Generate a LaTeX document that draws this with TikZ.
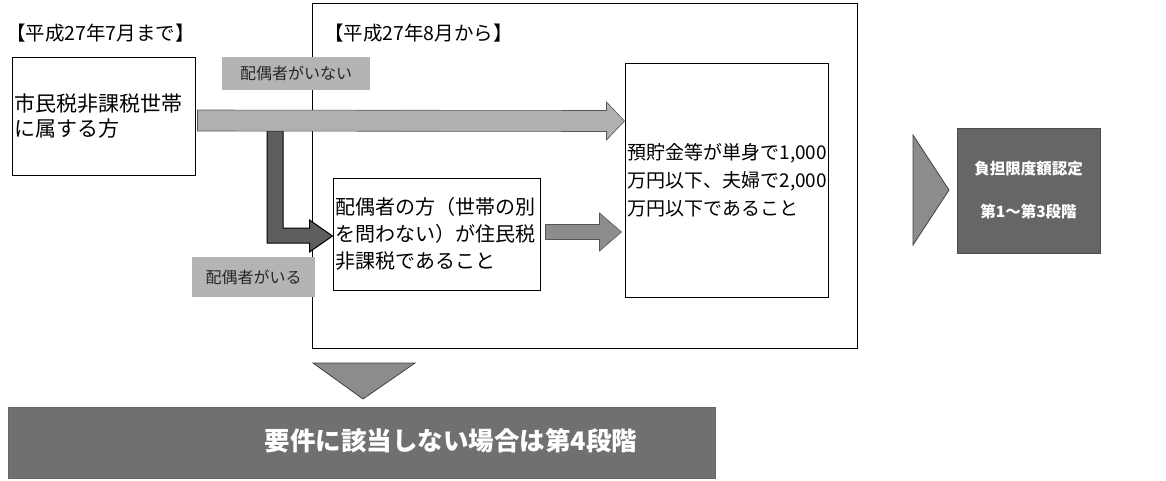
\documentclass[tikz,border=0pt]{standalone}
\usepackage{fontspec}
\setmainfont{Noto Sans CJK JP}
\usetikzlibrary{calc}
\definecolor{lblfill}{HTML}{B4B4B4}
\definecolor{arrowlight}{HTML}{B0B0B0}
\definecolor{arrowmid}{HTML}{8C8C8C}
\definecolor{arrowdark}{HTML}{5E5E5E}
\definecolor{darkfill}{HTML}{666666}
\definecolor{barfill}{HTML}{707070}
\definecolor{edgegray}{HTML}{555555}
\tikzset{
  box/.style={draw=black, line width=1pt, fill=white, inner xsep=2.5pt, inner ysep=0pt, align=left},
  lbl/.style={fill=lblfill, text=black!85, inner sep=0pt, align=center, font=\fontsize{16}{18}\selectfont},
  title/.style={anchor=west, inner sep=0pt, font=\fontsize{19.5}{22}\selectfont},
  fatlight/.style={fill=arrowlight, draw=edgegray, line width=0.6pt},
  fatdark/.style={fill=arrowdark, draw=black, line width=1pt},
  fatmid/.style={fill=arrowmid, draw=edgegray, line width=0.6pt},
  darkbox/.style={fill=darkfill, draw=black!70, line width=0.8pt, text=white, align=center, inner sep=0pt},
  pointer/.style={fill=arrowmid, draw=black!75, line width=0.8pt}
}
\begin{document}
\begin{tikzpicture}[x=1pt,y=-1pt]
\useasboundingbox (0,0) rectangle (1166,480);

% titles
\node[title] (t1) at (6,33) {【平成27年7月まで】};
% outer frame
\node[draw=black, line width=1pt, minimum width=545pt, minimum height=345pt, inner sep=0pt] (outer) at (585,175.5) {};
\node[title] (t2) at (324,33) {【平成27年8月から】};

% boxes
\node[box, minimum width=183pt, minimum height=118pt, text width=178pt, font=\fontsize{21}{25}\selectfont] (box1) at (103.5,116)
  {市民税非課税世帯\\に属する方};
\node[box, minimum width=207pt, minimum height=112pt, text width=202pt, font=\fontsize{20}{27}\selectfont] (box2) at (436.5,234)
  {配偶者の方（世帯の別\\を問わない）が住民税\\非課税であること};
\node[box, minimum width=203pt, minimum height=234pt, text width=198pt, font=\fontsize{19}{28}\selectfont] (box3) at (726.5,180)
  {預貯金等が単身で1,000\\万円以下、夫婦で2,000\\万円以下であること};

% L-shaped connector (配偶者がいる)
\coordinate (ltop) at (267,131);
\coordinate (ltip) at (box2.west |- 0,236);
\draw[fatdark] (ltop) -- ++(16,0) -- (283,228) -- ($(ltip)+(-23,-8)$) -- ($(ltip)+(-23,-16)$) -- (ltip)
  -- ($(ltip)+(-23,16)$) -- ($(ltip)+(-23,7)$) -- (267,243) -- cycle;

% main horizontal arrow (配偶者がいない)
\coordinate (hs) at ($(box1.east |- 0,120.5)+(2,0)$);
\coordinate (ht) at (box3.west |- 0,121);
\draw[fatlight] ($(hs)+(0,-10.5)$) -- ($(ht)+(-18,-10.5)$) -- ($(ht)+(-18,-19)$) -- (ht)
  -- ($(ht)+(-18,19)$) -- ($(ht)+(-18,10.5)$) -- ($(hs)+(0,10.5)$) -- cycle;

% small arrow box2 -> box3
\coordinate (ss) at ($(box2.east |- 0,232)+(5,0)$);
\coordinate (st) at ($(box3.west |- 0,232)+(-3,0)$);
\draw[fatmid] ($(ss)+(0,-7.5)$) -- ($(st)+(-22,-7.5)$) -- ($(st)+(-22,-19)$) -- (st)
  -- ($(st)+(-22,19)$) -- ($(st)+(-22,7.5)$) -- ($(ss)+(0,7.5)$) -- cycle;

% labels
\node[lbl, minimum width=148pt, minimum height=33pt] (lbl1) at (296,73.5) {配偶者がいない};
\node[lbl, minimum width=123pt, minimum height=40pt] (lbl2) at (253.5,277) {配偶者がいる};

% result box
\node[darkbox, minimum width=143pt, minimum height=125pt, font=\fontsize{15.5}{43}\selectfont\bfseries] (res) at (1028.5,190.5)
  {負担限度額認定\\第1〜第3段階};
% chevron pointer
\draw[pointer] (913,135) -- (949,190) -- (913,245) -- cycle;

% down pointer and bottom bar
\draw[pointer] (313,363) -- (415,363) -- (363,399) -- cycle;
\node[fill=barfill, draw=black!60, line width=0.6pt, minimum width=707pt, minimum height=71pt, inner sep=0pt] (bar) at (361.5,442.5) {};
\node[text=white, inner sep=0pt, font=\fontsize{25.5}{27}\selectfont\bfseries] (bartext) at (451,441) {要件に該当しない場合は第4段階};
\end{tikzpicture}
\end{document}
